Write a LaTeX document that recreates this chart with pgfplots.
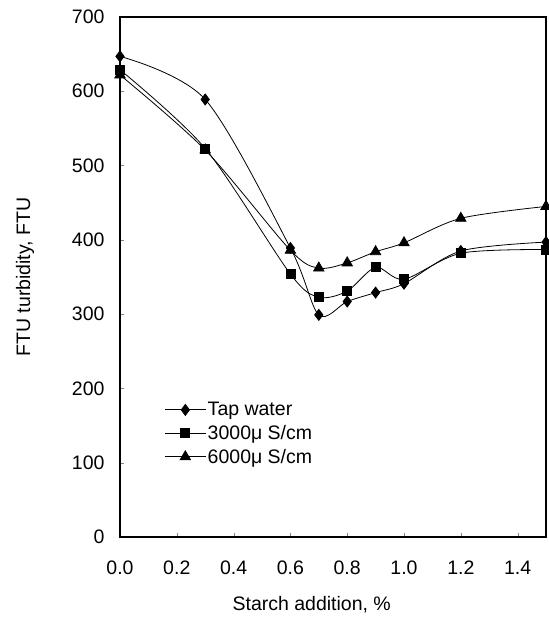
\documentclass[border=0pt]{standalone}
\usepackage{fontspec}
\setmainfont{Liberation Sans}
\usepackage{pgfplots}
\pgfplotsset{compat=1.18}
\usetikzlibrary{calc}
\newcommand{\chartfont}{\fontsize{19.5}{22}\selectfont}
\begin{document}
\begin{tikzpicture}
\begin{axis}[
    scale only axis,
    width=426pt,
    height=520pt,
    xmin=0, xmax=1.5,
    ymin=0, ymax=700,
    xtick={0,0.2,0.4,0.6,0.8,1.0,1.2,1.4},
    ytick={0,100,200,300,400,500,600,700},
    tick align=inside,
    tick pos=left,
    major tick length=4pt,
    axis line style={line width=1.4pt},
    xticklabel style={/pgf/number format/fixed,/pgf/number format/fixed zerofill,
        /pgf/number format/precision=1, yshift=-20pt, text height=14pt, text depth=0pt},
    yticklabel style={xshift=-12pt},
    /pgf/number format/assume math mode=true,
    tick label style={font=\chartfont},
    xlabel={Starch addition, \%},
    ylabel={FTU turbidity, FTU},
    every axis x label/.style={at={(rel axis cs:0.45,0)}, anchor=center, yshift=-68pt, font=\chartfont},
    every axis y label/.style={at={(rel axis cs:0,0.5)}, anchor=center, rotate=90, yshift=95pt, font=\chartfont},
    legend style={
        at={(0.105,0.263)},
        anchor=north west,
        draw=none,
        fill=none,
        font=\chartfont,
        row sep=4pt,
        inner sep=0pt,
        /tikz/every even column/.append style={column sep=0pt},
    },
    legend cell align=left,
    legend image code/.code={
        \draw[mark repeat=2,mark phase=2,#1] plot coordinates {(0pt,0pt) (20pt,0pt) (40pt,0pt)};
    },
    every axis plot/.append style={black, line width=0.8pt, smooth, tension=0.5},
]
\addplot[mark=diamond*, mark size=5.5pt] coordinates {
(0,647) (0.3,589) (0.6,389) (0.7,299) (0.8,317) (0.9,329) (1.0,341) (1.2,385) (1.5,397)};
\addplot[mark=square*, mark size=4.5pt] coordinates {
(0,629) (0.3,523) (0.6,354) (0.7,323) (0.8,331) (0.9,363) (1.0,347) (1.2,382) (1.5,387)};
\addplot[mark=triangle*, mark size=6pt] coordinates {
(0,622) (0.3,521) (0.6,386) (0.7,362) (0.8,369) (0.9,384) (1.0,396) (1.2,429) (1.5,445)};
\legend{Tap water, 3000μ S/cm, 6000μ S/cm}
\coordinate (bl) at (rel axis cs:0,0);
\coordinate (tr) at (rel axis cs:1,1);
\end{axis}
\pgfresetboundingbox
\path ($(bl)+(-120pt,-87pt)$) rectangle ($(tr)+(2pt,17pt)$);
\end{tikzpicture}
\end{document}
